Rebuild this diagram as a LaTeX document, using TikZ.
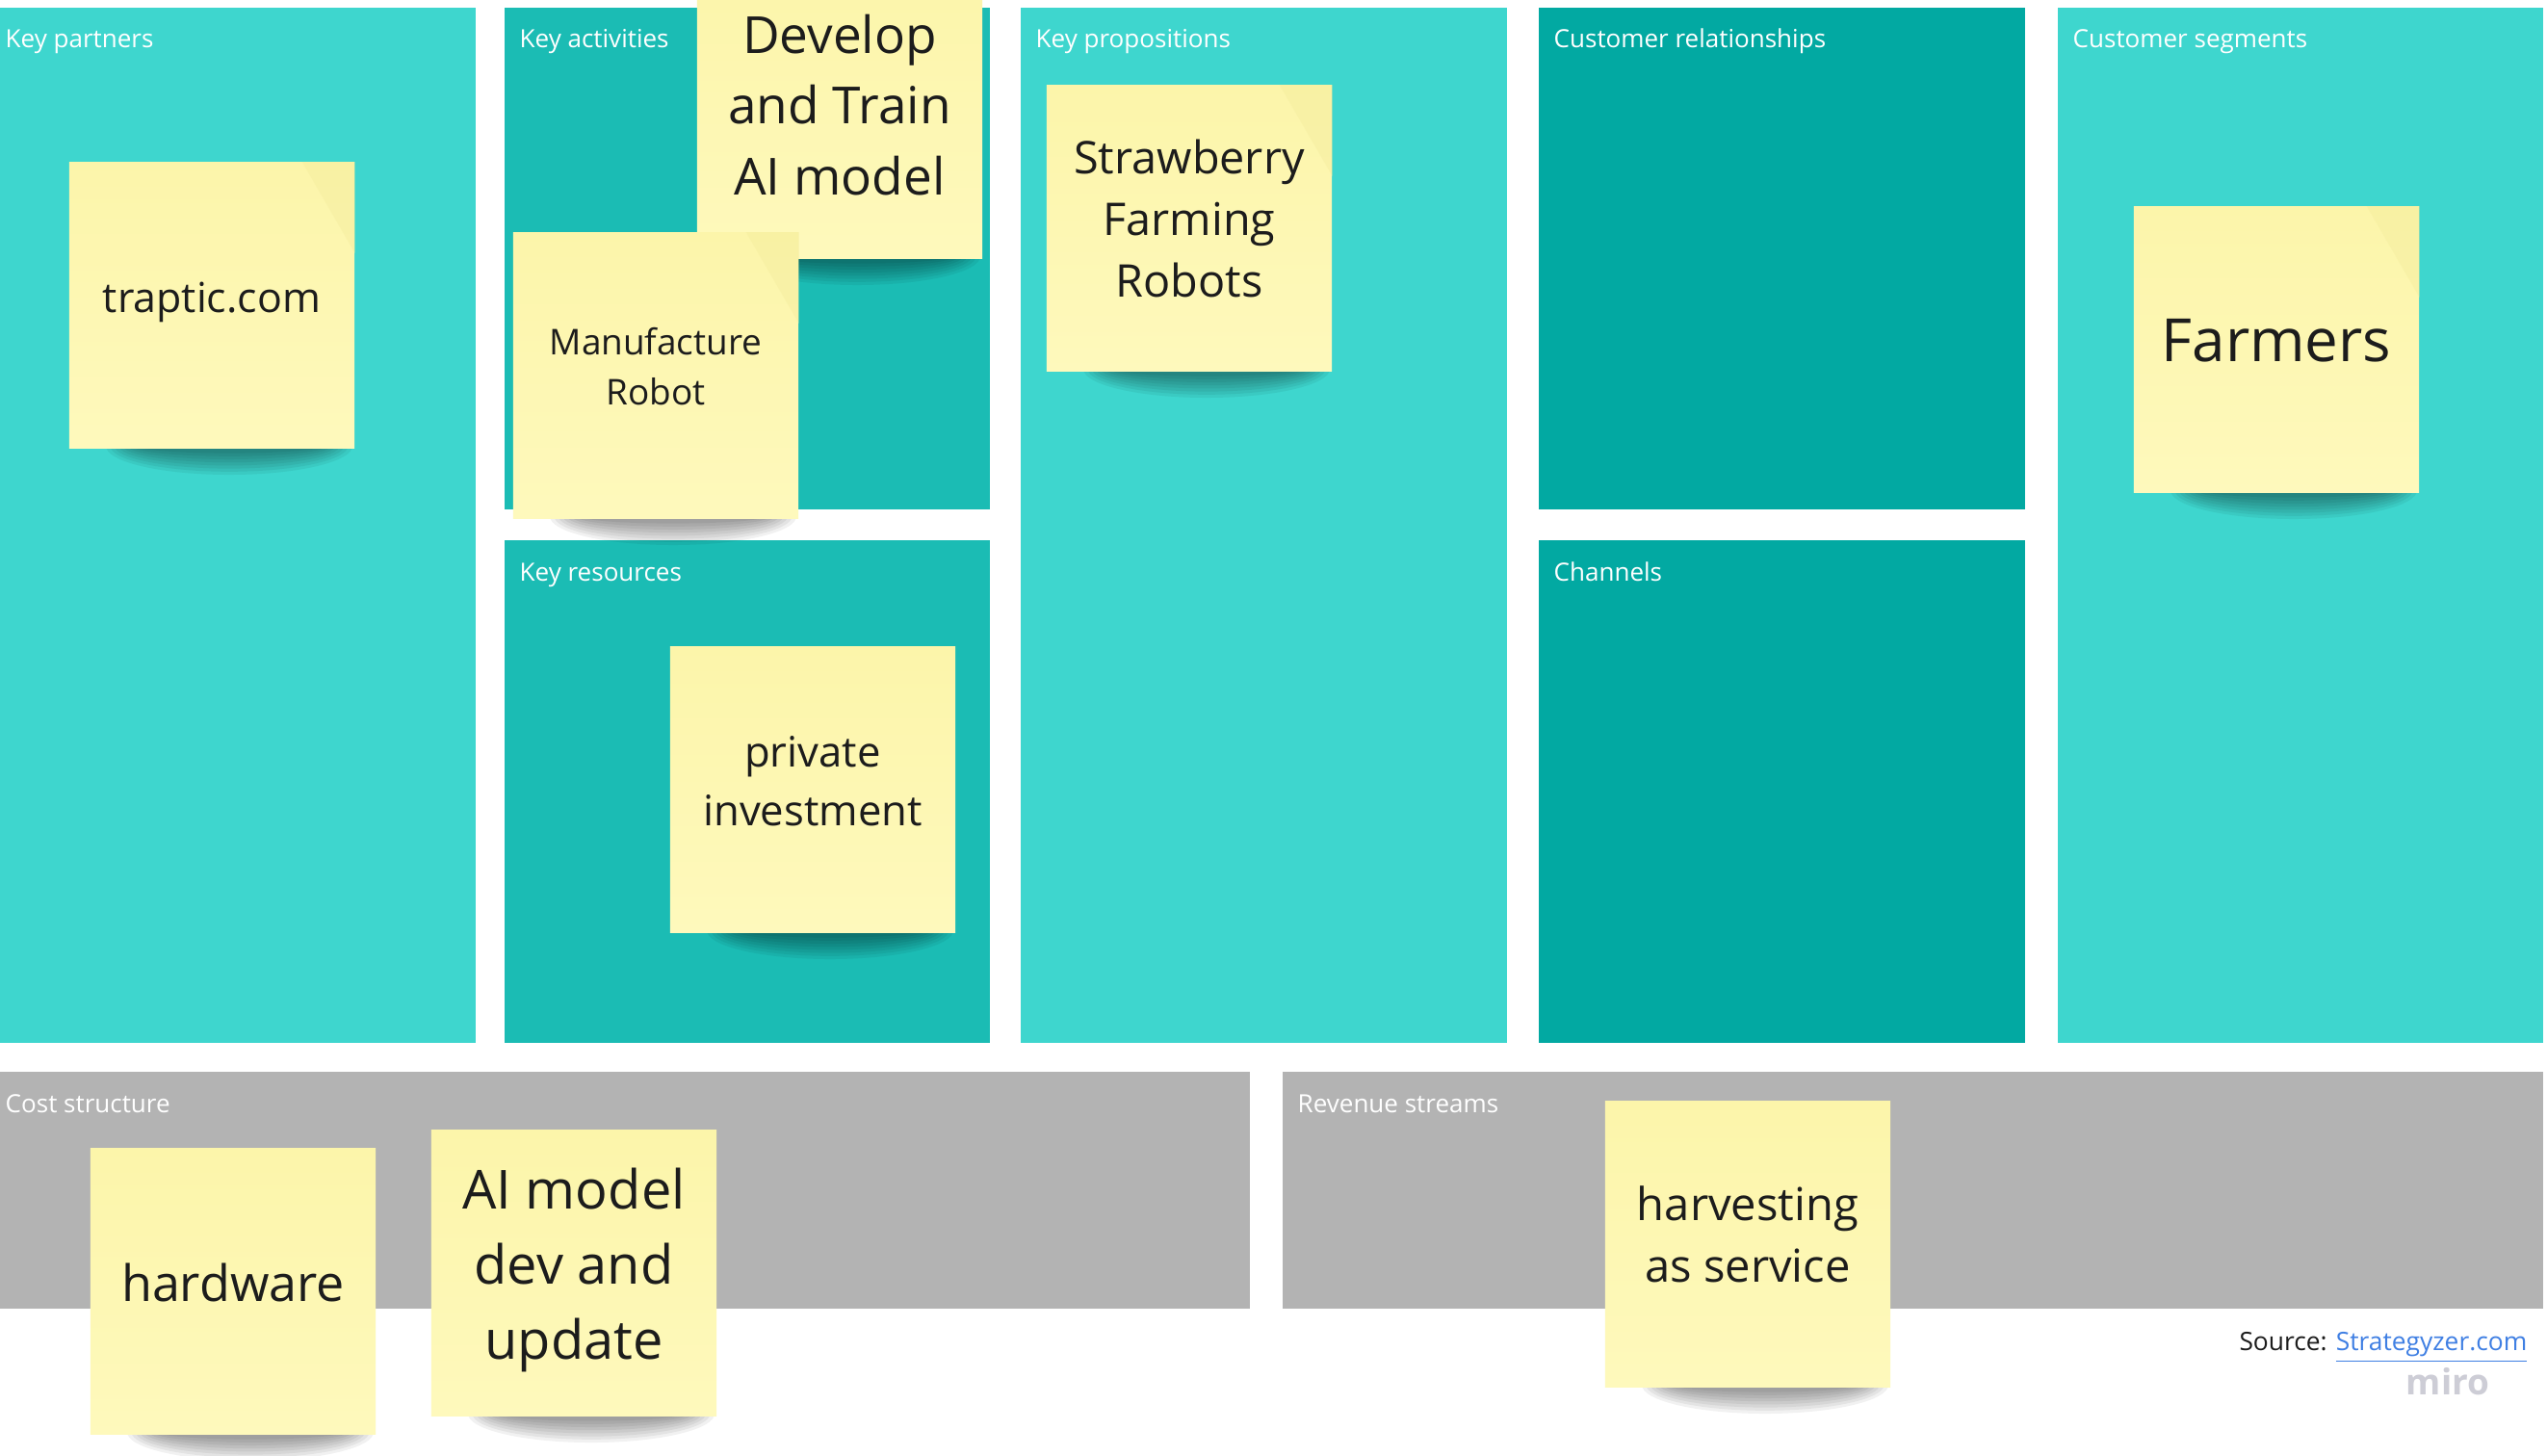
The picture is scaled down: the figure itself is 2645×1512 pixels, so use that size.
\documentclass[tikz,border=0pt]{standalone}
\usepackage{fontspec}
\setmainfont{Open Sans}
\usepackage{tikz}
\usepackage{xcolor}
\usetikzlibrary{positioning,calc}

\definecolor{tealA}{HTML}{3ED6CE}
\definecolor{tealB}{HTML}{1BBCB4}
\definecolor{tealC}{HTML}{02A9A2}
\definecolor{canvasgray}{HTML}{B3B3B3}
\definecolor{noteTop}{HTML}{FCF5AA}
\definecolor{noteBot}{HTML}{FEF9BC}
\definecolor{noteFold}{HTML}{F1E896}
\definecolor{inkdark}{HTML}{1C1C1C}
\definecolor{linkblue}{HTML}{3F7FE3}
\definecolor{miroGray}{HTML}{CDCDD6}

% soft shadow under a sticky note, given its centre
\newcommand{\noteshadow}[2]{%
  \foreach \k in {0,...,7}{%
    \fill[black, opacity=0.055] ({#1+18},{#2+146}) ellipse [x radius={1.28cm-\k*0.045cm}, y radius={0.30cm-\k*0.032cm}];
  }}
% folded corner highlight
\newcommand{\notefold}[1]{%
  \fill[noteFold, opacity=0.3] ($(#1.north east)+(-55,0)$) -- (#1.north east) -- ($(#1.north east)+(0,95)$) -- cycle;}

\begin{document}
\begin{tikzpicture}[x=0.01cm, y=-0.01cm]
  \tikzstyle{block}=[rectangle, inner sep=0pt, anchor=north west]
  \tikzstyle{hdr}=[anchor=base west, inner sep=0pt, text=white, font=\fontsize{7.4}{9}\selectfont]
  \tikzstyle{note}=[rectangle, inner sep=0pt, minimum width=2.96cm, minimum height=2.96cm, top color=noteTop, bottom color=noteBot]
  \tikzstyle{memo}=[align=center, inner sep=0pt, text=inkdark]

  \useasboundingbox (0,0) rectangle (2645,1512);
  \fill[white] (0,0) rectangle (2645,1512);

  % canvas blocks
  \node[block, fill=tealA, minimum width=5.04cm, minimum height=10.75cm] (kp) at (-11,7) {};
  \node[block, fill=tealB, minimum width=5.04cm, minimum height=5.21cm] (ka) at (523,7) {};
  \node[block, fill=tealB, minimum width=5.04cm, minimum height=5.22cm] (kr) at (523,560) {};
  \node[block, fill=tealA, minimum width=5.05cm, minimum height=10.75cm] (vp) at (1059,7) {};
  \node[block, fill=tealC, minimum width=5.05cm, minimum height=5.21cm] (cr) at (1597,7) {};
  \node[block, fill=tealC, minimum width=5.05cm, minimum height=5.22cm] (ch) at (1597,560) {};
  \node[block, fill=tealA, minimum width=5.04cm, minimum height=10.75cm] (cs) at (2136,7) {};
  \node[block, fill=canvasgray, minimum width=13.08cm, minimum height=2.46cm] (cost) at (-11,1112) {};
  \node[block, fill=canvasgray, minimum width=13.09cm, minimum height=2.46cm] (rev) at (1331,1112) {};

  % block titles
  \node[hdr] (kp-lbl) at ($(kp.north west)+(16,43)$) {Key partners};
  \node[hdr] (ka-lbl) at ($(ka.north west)+(16,43)$) {Key activities};
  \node[hdr] (kr-lbl) at ($(kr.north west)+(16,43)$) {Key resources};
  \node[hdr] (vp-lbl) at ($(vp.north west)+(16,43)$) {Key propositions};
  \node[hdr] (cr-lbl) at ($(cr.north west)+(16,43)$) {Customer relationships};
  \node[hdr] (ch-lbl) at ($(ch.north west)+(16,43)$) {Channels};
  \node[hdr] (cs-lbl) at ($(cs.north west)+(16,43)$) {Customer segments};
  \node[hdr] (cost-lbl) at ($(cost.north west)+(16,43)$) {Cost structure};
  \node[hdr] (rev-lbl) at ($(rev.north west)+(16,43)$) {Revenue streams};

  % sticky notes
  \noteshadow{220}{317}
  \node[note] (traptic) at (220,317) {};
  \notefold{traptic}
  \node[memo, font=\fontsize{12.2}{17}\selectfont] (traptic-t) at ($(traptic)+(0,-3)$) {traptic.com};

  \noteshadow{872}{120}
  \node[note] (develop) at (872,120) {};
  \node[memo, font=\fontsize{15.1}{21}\selectfont] (develop-t) at ($(develop)+(0,-11)$) {Develop\\and Train\\AI model};

  \noteshadow{681}{390}
  \node[note] (manufacture) at (681,390) {};
  \notefold{manufacture}
  \node[memo, font=\fontsize{10.5}{14.8}\selectfont] (manufacture-t) at ($(manufacture)+(0,-9)$) {Manufacture\\Robot};

  \noteshadow{844}{820}
  \node[note] (invest) at (844,820) {};
  \node[memo, font=\fontsize{12.4}{17.4}\selectfont] (invest-t) at ($(invest)+(0,-9)$) {private\\investment};

  \noteshadow{1235}{237}
  \node[note] (straw) at (1235,237) {};
  \notefold{straw}
  \node[memo, font=\fontsize{13.3}{18.2}\selectfont] (straw-t) at ($(straw)+(0,-10)$) {Strawberry\\Farming\\Robots};

  \noteshadow{2364}{363}
  \node[note] (farmers) at (2364,363) {};
  \notefold{farmers}
  \node[memo, font=\fontsize{17.6}{24}\selectfont] (farmers-t) at ($(farmers)+(0,-9)$) {Farmers};

  \noteshadow{242}{1341}
  \node[note] (hardware) at (242,1341) {};
  \node[memo, font=\fontsize{14.8}{20}\selectfont] (hardware-t) at ($(hardware)+(0,-9)$) {hardware};

  \noteshadow{596}{1322}
  \node[note] (aimodel) at (596,1322) {};
  \node[memo, font=\fontsize{15.9}{22.2}\selectfont] (aimodel-t) at ($(aimodel)+(0,-3)$) {AI model\\dev and\\update};

  \noteshadow{1815}{1292}
  \node[note] (harvest) at (1815,1292) {};
  \node[memo, font=\fontsize{13.4}{18.2}\selectfont] (harvest-t) at ($(harvest)+(0,-10)$) {harvesting\\as service};

  % footer
  \node[anchor=base east, inner sep=0pt, text=inkdark, font=\fontsize{7.5}{9}\selectfont] (source) at (2625,1402) {Source: \textcolor{linkblue}{\underline{Strategyzer.com}}};
  \node[anchor=base, inner sep=0pt, text=miroGray, font=\fontsize{10.5}{12}\selectfont\bfseries] (miro) at (2542,1448) {miro};
\end{tikzpicture}
\end{document}
